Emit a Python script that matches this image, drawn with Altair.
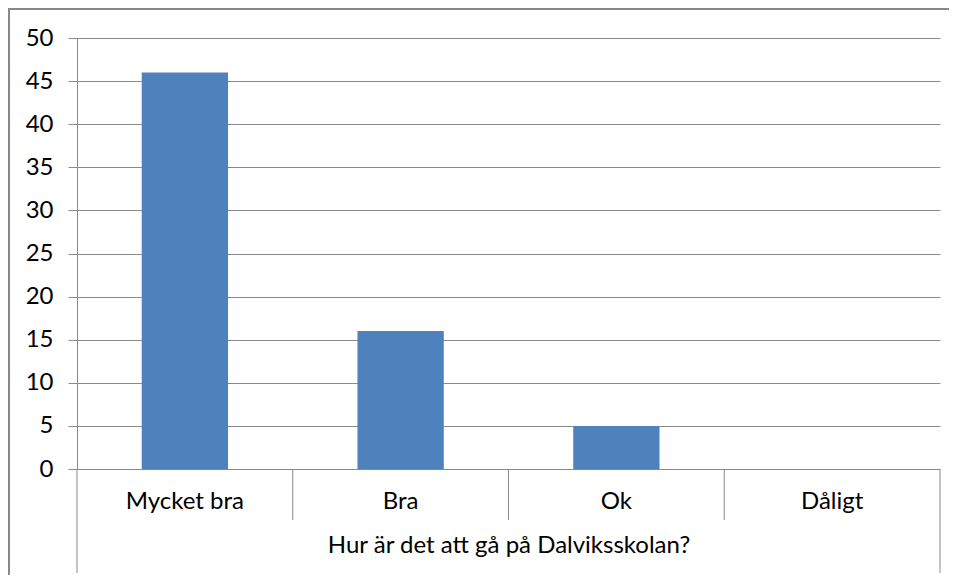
import altair as alt
import pandas as pd

categories = ["Mycket bra", "Bra", "Ok", "Dåligt"]
values = [46, 16, 5, 0]
y_ticks = [0, 5, 10, 15, 20, 25, 30, 35, 40, 45, 50]
x_title = "Hur är det att gå på Dalviksskolan?"
separator_cats = ["Bra", "Ok", "Dåligt"]

df = pd.DataFrame({"svar": categories, "antal": values})
sep_df = pd.DataFrame({"svar": separator_cats})
left_df = pd.DataFrame({"svar": [categories[0]]})
right_df = pd.DataFrame({"svar": [categories[-1]]})
one = pd.DataFrame({"a": [0]})

W, H = 863, 431
FONT = "Lato"
GRAY = "#8a8a8a"
FS = 24

x_scale = alt.Scale(domain=categories, paddingInner=0, paddingOuter=0)
y_scale = alt.Scale(domain=[0, 50])

bars = alt.Chart(df).mark_bar(color="#4f81bd", width={"band": 0.4}).encode(
    x=alt.X("svar:N", scale=x_scale, sort=categories,
            axis=alt.Axis(title=x_title, labelAngle=0, ticks=False, domain=False,
                          labelPadding=20, titlePadding=20, labelFontSize=FS, titleFontSize=FS,
                          labelColor="#000", titleColor="#000", labelFont=FONT, titleFont=FONT,
                          titleFontWeight="normal")),
    y=alt.Y("antal:Q", scale=y_scale,
            axis=alt.Axis(values=y_ticks, title=None, grid=True, gridColor=GRAY,
                          domainColor=GRAY, tickColor=GRAY, tickSize=9, labelPadding=15,
                          labelFontSize=FS, labelFont=FONT, labelColor="#000")),
)

seps = alt.Chart(sep_df).mark_rule(color=GRAY, strokeWidth=1).encode(
    x=alt.X("svar:N", scale=x_scale, bandPosition=0),
    y=alt.value(H), y2=alt.value(H + 51),
)
left_line = alt.Chart(left_df).mark_rule(color=GRAY, strokeWidth=1).encode(
    x=alt.X("svar:N", scale=x_scale, bandPosition=0),
    y=alt.value(H), y2=alt.value(H + 104),
)
right_line = alt.Chart(right_df).mark_rule(color=GRAY, strokeWidth=1).encode(
    x=alt.X("svar:N", scale=x_scale, bandPosition=1),
    y=alt.value(H), y2=alt.value(H + 104),
)
frame_top = alt.Chart(one).mark_rule(color="#888888", strokeWidth=2).encode(
    x=alt.value(-69), x2=alt.value(W + 9), y=alt.value(-29),
)
frame_left = alt.Chart(one).mark_rule(color="#888888", strokeWidth=2).encode(
    x=alt.value(-68), y=alt.value(-30), y2=alt.value(H + 106),
)

chart = alt.layer(bars, seps, left_line, right_line, frame_top, frame_left).properties(
    width=W, height=H,
    autosize=alt.AutoSizeParams(type="none"),
    padding={"left": 69, "top": 30, "right": 10, "bottom": 106},
).configure_view(strokeWidth=0).configure_axis(labelFont=FONT, titleFont=FONT)

chart.save("out.html", embed_options={"renderer": "svg", "actions": False})
